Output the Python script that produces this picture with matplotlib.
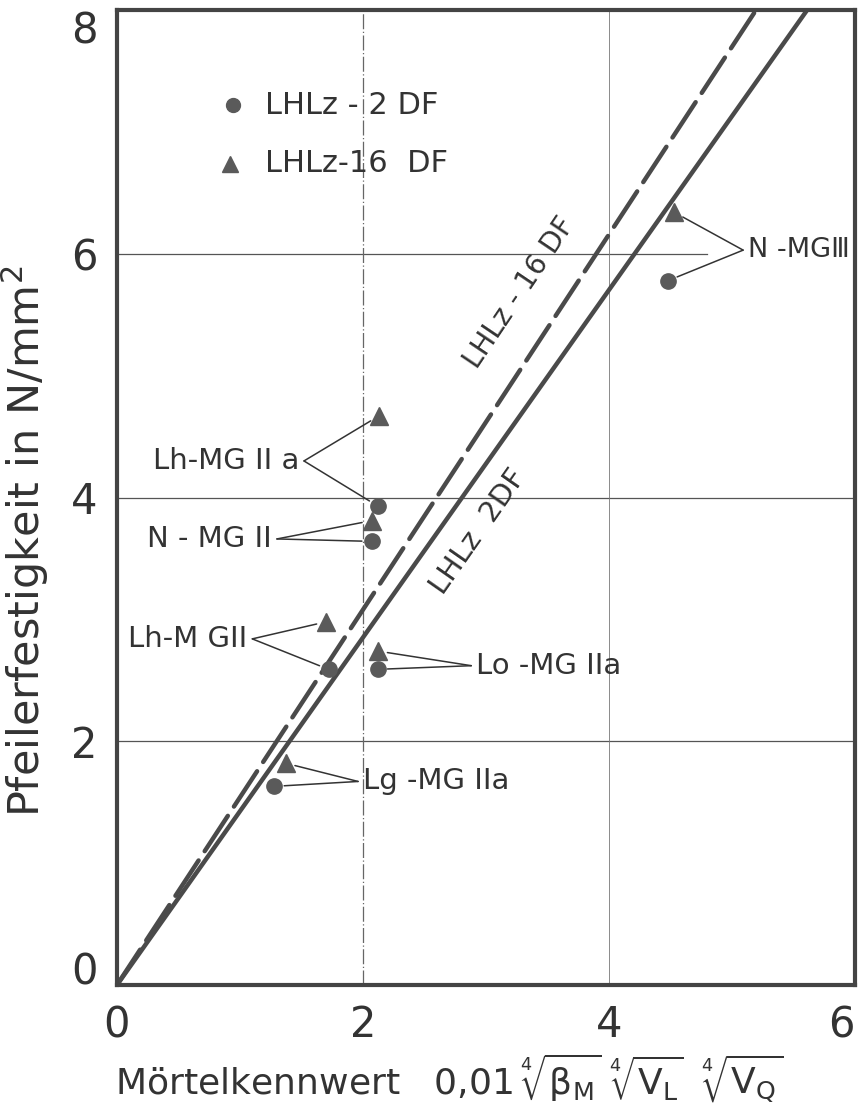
import matplotlib.pyplot as plt

plt.rcParams['font.family'] = ['DejaVu Sans']
plt.rcParams['mathtext.fontset'] = 'dejavusans'

# mortar groups, same order for both brick types
groups = ['Lg -MG IIa', 'Lh-M GII', 'Lo -MG IIa', 'N - MG II', 'Lh-MG II a', 'N -MGⅢ']

# LHLz - 2 DF (circles)
x_2df = [1.28, 1.72, 2.12, 2.07, 2.12, 4.48]
y_2df = [1.63, 2.59, 2.59, 3.64, 3.93, 5.78]

# LHLz - 16 DF (triangles)
x_16df = [1.37, 1.70, 2.12, 2.07, 2.13, 4.53]
y_16df = [1.82, 2.98, 2.74, 3.81, 4.67, 6.34]

# regression lines through origin
slope_2df = 1.426
slope_16df = 1.54
x_line = [0, 6]

# label anchor (vertex of the leader lines) for each group
label_x = [1.96, 1.10, 2.88, 1.30, 1.52, 5.09]
label_y = [1.67, 2.84, 2.62, 3.66, 4.30, 6.03]
label_ha = ['left', 'right', 'left', 'right', 'right', 'left']
label_fs = [21, 21, 21, 21, 21, 19.5]

grey = '#4a4a4a'
txt = '#333333'

fig = plt.figure(figsize=(8.62, 11.16), dpi=100)
ax = fig.add_axes([0.1357, 0.1174, 0.8563, 0.8736])

# grid
for gy in [2, 4]:
    ax.axhline(gy, color='#555555', lw=0.9, zorder=1)
ax.plot([0, 4.8], [6, 6], color='#555555', lw=0.9, zorder=1)
ax.axvline(2, color='#666666', lw=0.9, ls=(0, (12, 2, 1, 2)), zorder=1)
ax.axvline(4, color='#777777', lw=0.6, zorder=1)

# fit lines
ax.plot(x_line, [slope_2df * v for v in x_line], color=grey, lw=3.2,
        solid_capstyle='round', zorder=2)
ax.plot(x_line, [slope_16df * v for v in x_line], color=grey, lw=3.2,
        dashes=(9.5, 2.5), dash_capstyle='round', zorder=2)

# data points
ax.plot(x_2df, y_2df, 'o', color='#5a5a5a', markersize=11, zorder=4)
ax.plot(x_16df, y_16df, '^', color='#5a5a5a', markersize=13, zorder=4)

# labels with leader lines
for i, g in enumerate(groups):
    off = 0.04 if label_ha[i] == 'left' else -0.04
    ax.text(label_x[i] + off, label_y[i], g, ha=label_ha[i], va='center',
            fontsize=label_fs[i], color=txt, zorder=5)
    for px, py in [(x_2df[i], y_2df[i]), (x_16df[i], y_16df[i])]:
        ax.annotate('', xy=(px, py), xytext=(label_x[i], label_y[i]),
                    arrowprops=dict(arrowstyle='-', color=txt, lw=1.1,
                                    shrinkA=0, shrinkB=7), zorder=3)

# legend
ax.plot([0.94], [7.22], 'o', color='#5a5a5a', markersize=10)
ax.text(1.2, 7.22, 'LHLz - 2 DF', va='center', fontsize=22, color=txt)
ax.plot([0.92], [6.74], '^', color='#5a5a5a', markersize=12)
ax.text(1.2, 6.74, 'LHLz-16  DF', va='center', fontsize=22, color=txt)

# line labels
ax.text(3.27, 5.68, 'LHLz - 16 DF', rotation=56, ha='center', va='center',
        fontsize=20, color=txt, rotation_mode='anchor')
ax.text(2.94, 3.72, 'LHLz  2DF', rotation=55, ha='center', va='center',
        fontsize=21, color=txt, rotation_mode='anchor')

ax.set_xlim(0, 6)
ax.set_ylim(0, 8)
ax.set_xticks([0, 2, 4, 6])
ax.set_yticks([0, 2, 4, 6, 8])
ax.tick_params(length=0, labelsize=30, colors=txt, pad=14)
ylabels = ax.get_yticklabels()
ylabels[0].set_va('baseline')
ylabels[-1].set_va('top')
xlabels = ax.get_xticklabels()
xlabels[-1].set_ha('right')
for s in ax.spines.values():
    s.set_linewidth(3)
    s.set_color('#444444')

ax.set_ylabel('Pfeilerfestigkeit in N/mm$^2$', fontsize=31, color=txt,
              labelpad=14, y=0.455)
ax.set_xlabel(r'Mörtelkennwert   $\mathrm{0{,}01}\,\sqrt[4]{\mathrm{β}_\mathrm{M}}\;'
              r'\sqrt[4]{\mathrm{V}_\mathrm{L}}\;\;\sqrt[4]{\mathrm{V}_\mathrm{Q}}$',
              fontsize=26, color=txt, labelpad=4, x=0.45)

fig.savefig('out.png', dpi=100)
